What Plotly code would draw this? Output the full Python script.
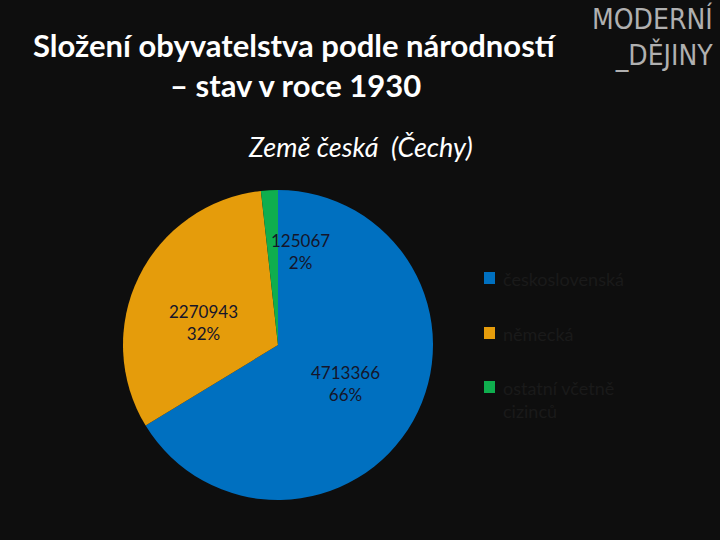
import math
import plotly.graph_objects as go

labels = ["československá", "německá", "ostatní včetně<br>cizinců"]
values = [4713366, 2270943, 125067]
colors = ["#0070C0", "#E59C0B", "#0FAE4E"]

title_lines = ["Složení obyvatelstva podle národností", "– stav v roce 1930"]
subtitle_text = "Země česká  (Čechy)"
logo_text = "MODERNÍ<br>_DĚJINY"

W, H = 720, 540
cx, cy, R = 278, 345, 155

def px(x):
    return x / W

def py(y):
    return 1 - y / H

fig = go.Figure(go.Pie(
    labels=labels, values=values, sort=False, direction="clockwise", rotation=0,
    marker=dict(colors=colors, line=dict(width=0)),
    textinfo="none", hoverinfo="label+value+percent", showlegend=False,
    domain=dict(x=[px(cx - R), px(cx + R)], y=[py(cy + R), py(cy - R)]),
))

# data labels near slice mid-angles
total = sum(values)
cum = 0
radius_frac = [0.5, 0.5, 0.62]
angle_shift = [0.7, -9.4, 16.8]
for i, v in enumerate(values):
    mid = (cum + v / 2) / total * 360 + angle_shift[i]
    cum += v
    r = R * radius_frac[i]
    lx = cx + r * math.sin(math.radians(mid))
    ly = cy - r * math.cos(math.radians(mid))
    fig.add_annotation(x=px(lx), y=py(ly), xref="paper", yref="paper",
                       xanchor="center", yanchor="middle",
                       text=f"{v}<br>{round(v / total * 100)}%", showarrow=False,
                       font=dict(family="Lato", size=17, color="#15152a"), align="center")

# custom legend
leg_y = [278, 333, 387]
for lab, col, y in zip(labels, colors, leg_y):
    fig.add_shape(type="rect", xref="paper", yref="paper",
                  x0=px(484), x1=px(495), y0=py(y + 6), y1=py(y - 6),
                  fillcolor=col, line=dict(width=0))
    fig.add_annotation(x=px(501), y=py(y - 12), xref="paper", yref="paper",
                       text=lab, showarrow=False, xanchor="left", yanchor="top", align="left",
                       font=dict(family="Lato", size=18, color="#1a1a1a"))

for line, y in zip(title_lines, [45, 85]):
    fig.add_annotation(x=px(295), y=py(y), xref="paper", yref="paper", text=f"<b>{line}</b>",
                       showarrow=False, xanchor="center", yanchor="middle",
                       font=dict(family="Lato", size=31, color="white"))
fig.add_annotation(x=px(360), y=py(147), xref="paper", yref="paper",
                   text=f"<i>{subtitle_text}</i>", showarrow=False,
                   xanchor="center", yanchor="middle",
                   font=dict(family="Lato", size=27, color="white"))
fig.add_annotation(x=px(715), y=py(37), xref="paper", yref="paper", text=logo_text,
                   showarrow=False, xanchor="right", yanchor="middle", align="right",
                   font=dict(family="DejaVu Sans Condensed", size=28, color="#b0b0b0"))

fig.update_layout(width=W, height=H, paper_bgcolor="#0e0e0e", plot_bgcolor="#0e0e0e",
                  margin=dict(l=0, r=0, t=0, b=0))
fig.write_html("out.html", config={"displayModeBar": False},
               post_script="document.body.style.margin='0';document.body.style.background='#0e0e0e';")
